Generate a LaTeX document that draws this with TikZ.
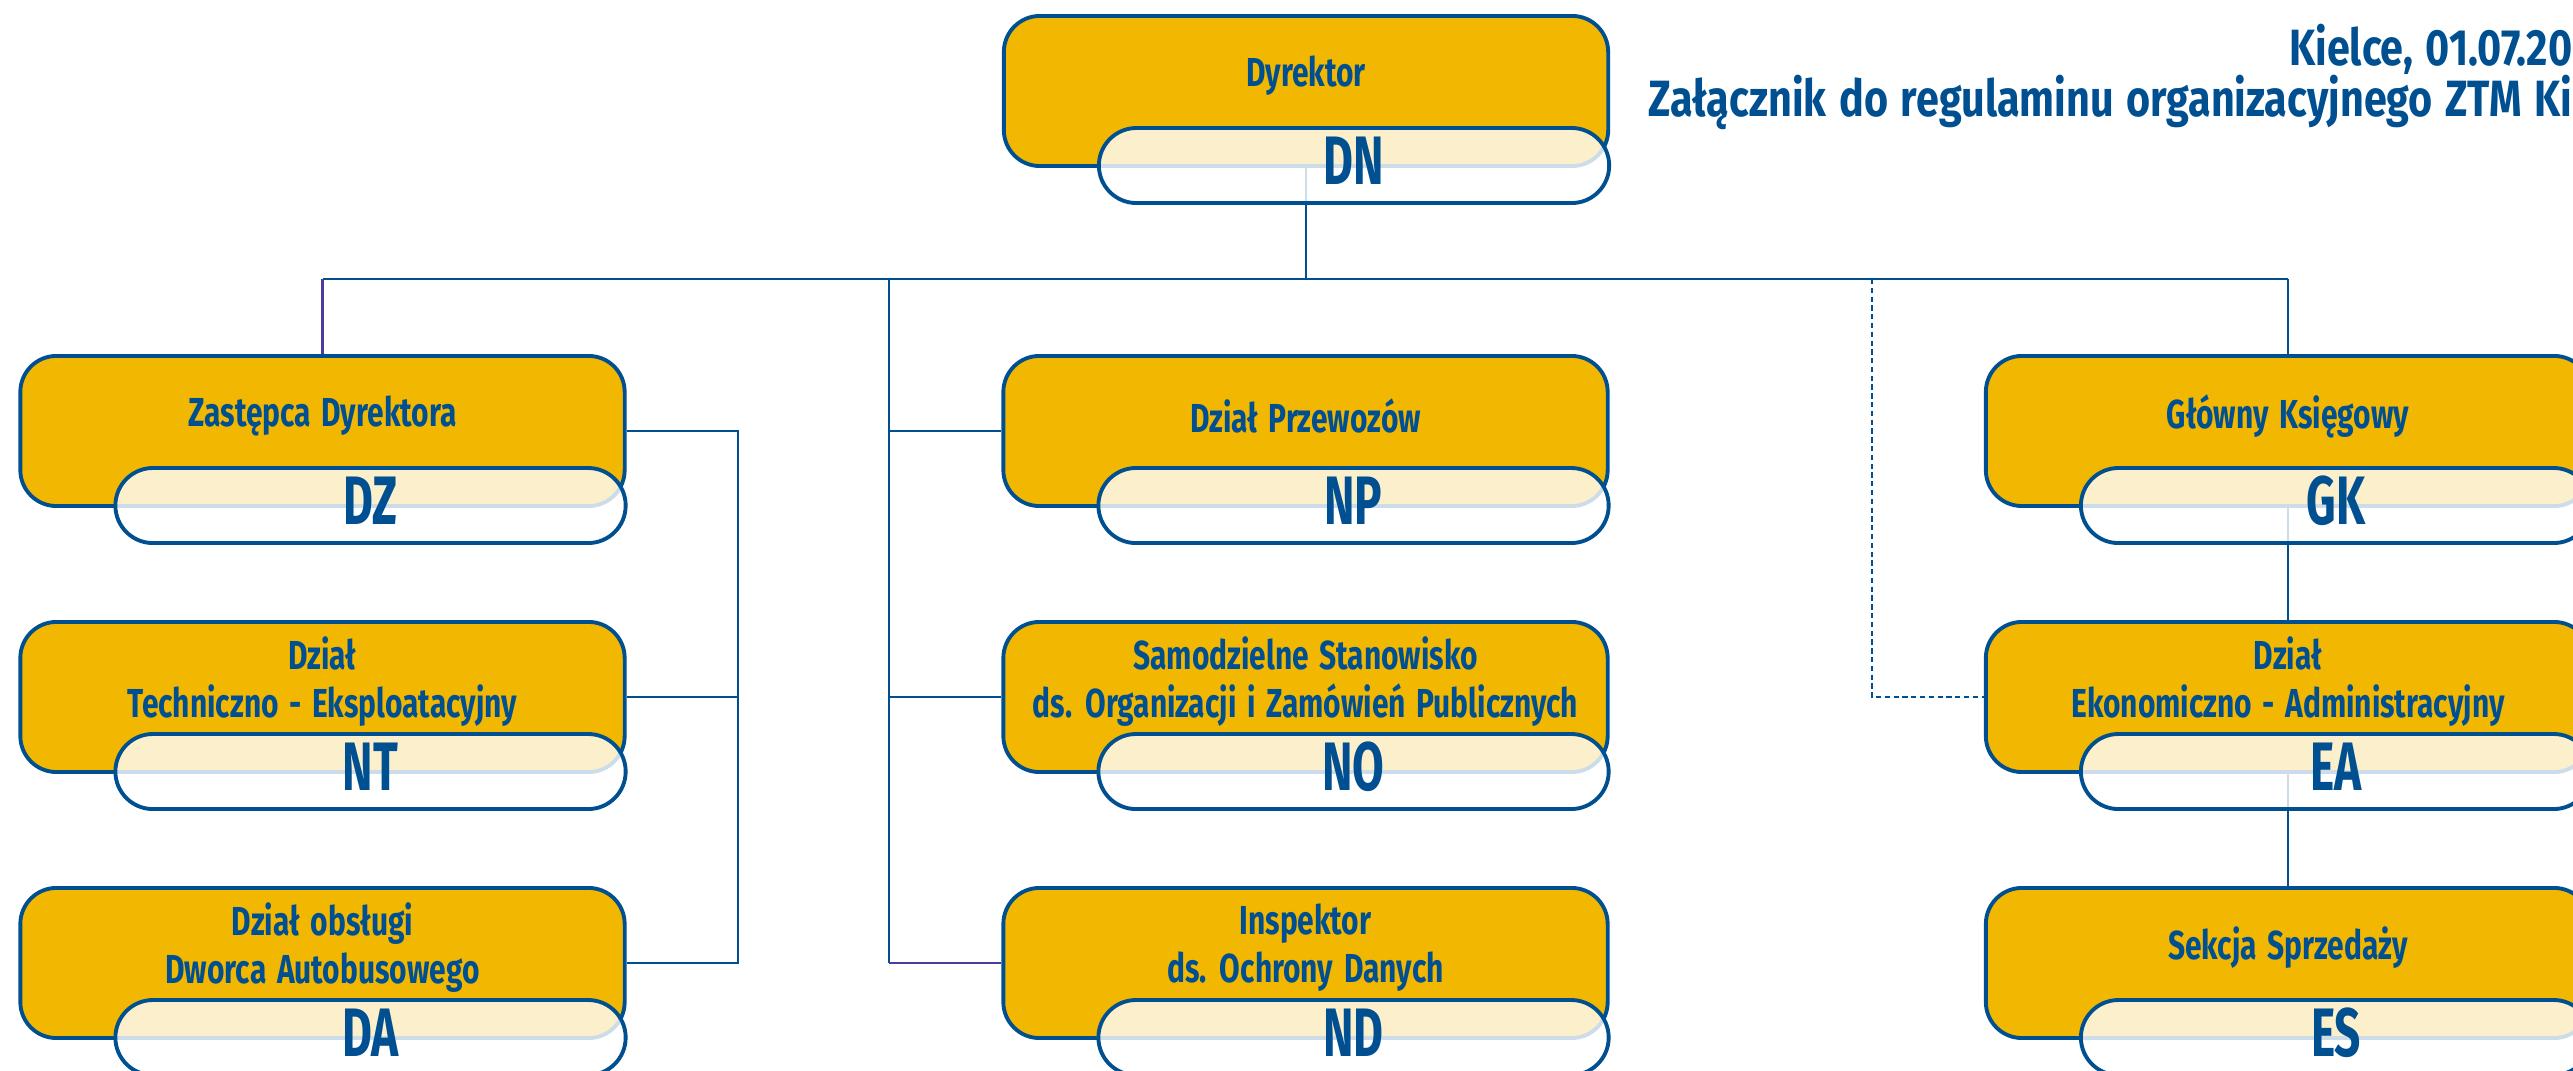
\documentclass[tikz,border=0pt]{standalone}
\usepackage{fontspec}
\setmainfont{Fira Sans}[FakeStretch=0.75]
\newfontfamily\titlefont{Fira Sans}[FakeStretch=0.74, WordSpace=1.5]
\newfontfamily\codefont{Fira Sans}[FakeStretch=0.67]
\newfontfamily\headfont{Fira Sans}[FakeStretch=0.81, WordSpace=1.3]
\usetikzlibrary{backgrounds}
\definecolor{dblue}{RGB}{0,80,145}
\definecolor{dyellow}{RGB}{242,183,0}
\definecolor{lpurple}{RGB}{75,60,160}
\tikzset{
  box/.style={draw=dblue, line width=1.1pt, fill=dyellow, rounded corners=0.36cm,
    minimum width=6.04cm, minimum height=1.5cm, inner sep=0pt},
  title/.style={text=dblue, font=\titlefont\fontsize{11.5}{13.7}\selectfont\bfseries, align=center, inner sep=0pt},
  pill/.style={draw=dblue, line width=1.1pt, fill=white, fill opacity=0.8,
    rounded corners=0.375cm, minimum width=5.1cm, minimum height=0.75cm, inner sep=0pt},
  code/.style={text=dblue, inner sep=0pt, font=\codefont\fontsize{19.5}{19.5}\selectfont\bfseries},
  conn/.style={draw=dblue, line width=0.75pt},
  pconn/.style={draw=lpurple, line width=0.75pt},
  dconn/.style={draw=dblue, line width=0.75pt, dash pattern=on 1.5pt off 1pt},
  header/.style={text=dblue, font=\headfont\fontsize{14.5}{14.5}\selectfont\bfseries, inner sep=0pt, anchor=base east},
}
\newcommand\unitbox[5]{%
  \node[box] (#1) at (#2,#3) {};
  \node[title] (#1t) at ([yshift=0.15cm]#1.center) {#4};
  \node[pill] (#1p) at ([xshift=0.48cm,yshift=-0.745cm]#1.center) {};
  \node[code] (#1c) at ([yshift=0.05cm]#1p.center) {#5};
}
\begin{document}
\begin{tikzpicture}[x=0.01cm,y=-0.01cm]
\useasboundingbox (0,0) rectangle (2573,1071);
\clip (0,0) rectangle (2573,1071);

\node[header] (h1) at (2573,66) {Kielce, 01.07.20};
\node[header] (h2) at (2573,117) {Załącznik do regulaminu organizacyjnego ZTM Ki};

\unitbox{dn}{1306}{91}{Dyrektor}{DN}

\unitbox{dz}{322.5}{431}{Zastępca Dyrektora}{DZ}
\unitbox{nt}{322.5}{697}{Dział\\Techniczno - Eksploatacyjny}{NT}
\unitbox{da}{322.5}{963}{Dział obsługi\\Dworca Autobusowego}{DA}

\unitbox{np}{1305.5}{431}{Dział Przewozów}{NP}
\unitbox{no}{1305.5}{697}{Samodzielne Stanowisko\\ds. Organizacji i Zamówień Publicznych}{NO}
\unitbox{nd}{1305.5}{963}{Inspektor\\ds. Ochrony Danych}{ND}

\unitbox{gk}{2288}{431}{Główny Księgowy}{GK}
\unitbox{ea}{2288}{697}{Dział\\Ekonomiczno - Administracyjny}{EA}
\unitbox{es}{2288}{963}{Sekcja Sprzedaży}{ES}

\begin{scope}[on background layer]
  \coordinate (hl) at (0,279);
  \coordinate (mv) at (889,279);
  \coordinate (lb) at (738,0);
  \coordinate (dv) at (1872,279);
  \draw[conn] (dn.south) -- (dn.south |- hl);
  \draw[conn] (dz.north |- hl) -- (gk.north |- hl);
  \draw[pconn] (dz.north |- hl) -- (dz.north);
  \draw[conn] (mv) -- (mv |- nd.west);
  \draw[conn] (mv |- np.west) -- (np.west);
  \draw[conn] (mv |- no.west) -- (no.west);
  \draw[pconn] (mv |- nd.west) -- (nd.west);
  \draw[conn] (dz.east) -- (lb |- dz.east) -- (lb |- da.east) -- (da.east);
  \draw[conn] (nt.east) -- (lb |- nt.east);
  \draw[dconn] (dv) -- (dv |- ea.west) -- (ea.west);
  \draw[conn] (gk.north |- hl) -- (gk.north);
  \draw[conn] (gk.south) -- (ea.north);
  \draw[conn] (ea.south) -- (es.north);
\end{scope}
\end{tikzpicture}
\end{document}
